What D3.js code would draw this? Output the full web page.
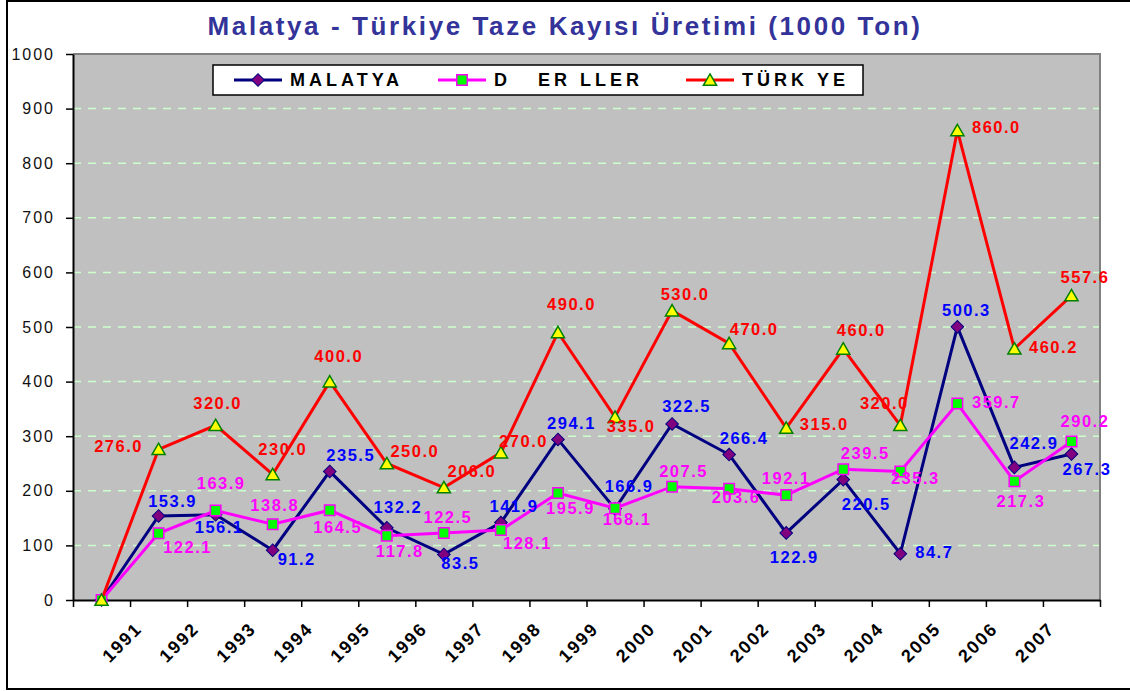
<!DOCTYPE html>
<html>
<head>
<meta charset="utf-8">
<script src="https://d3js.org/d3.v7.min.js"></script>
<style>
  body { margin: 0; background: #fff; }
  svg { display: block; font-family: Arial, 'Liberation Sans', sans-serif; }
</style>
</head>
<body>
<svg id="svg1" width="1130" height="691"></svg>
<script>
// categories (first one is the empty start point)
var years = ["", "1991", "1992", "1993", "1994", "1995", "1996", "1997", "1998", "1999",
             "2000", "2001", "2002", "2003", "2004", "2005", "2006", "2007"];

var malatya = [0, 153.9, 156.1, 91.2, 235.5, 132.2, 83.5, 141.9, 294.1, 166.9,
               322.5, 266.4, 122.9, 220.5, 84.7, 500.3, 242.9, 267.3];
var digerIller = [0, 122.1, 163.9, 138.8, 164.5, 117.8, 122.5, 128.1, 195.9, 168.1,
                  207.5, 203.6, 192.1, 239.5, 235.3, 359.7, 217.3, 290.2];
var turkiye = [0, 276.0, 320.0, 230.0, 400.0, 250.0, 206.0, 270.0, 490.0, 335.0,
               530.0, 470.0, 315.0, 460.0, 320.0, 860.0, 460.2, 557.6];

var yTicks = [0, 100, 200, 300, 400, 500, 600, 700, 800, 900, 1000];
var seriesNames = ["MALATYA", "D\u00A0\u00A0\u00A0ER\u00A0LLER", "TÜRK\u00A0YE"];

// where each data label sits relative to its point (dx, dy)
var malatyaLabelPos = [null, [14,-15], [3.5,12], [24,9], [21,-16], [11,-21], [16.5,9], [13,-17], [13.5,-16],
  [14,-23], [14.5,-17.5], [15,-17], [8,24.5], [23,24], [34,-2], [9,-17], [19.5,-24], [15.5,15]];
var digerLabelPos = [null, [29,14], [5.5,-27.5], [2,-19], [8,17], [13,15], [4,-16.5], [26.5,13], [12.5,15],
  [12,11], [11.5,-16], [7,8], [0,-17], [22,-16], [15,6.5], [39,-2], [6.5,19.5], [13.5,-21]];
var turkiyeLabelPos = [null, [-40,-3], [2,-22], [10,-25], [9,-26], [28,-13], [28,-17], [22.6,-12], [13.5,-28],
  [16,8.5], [13,-17], [25,-14], [38,-4.5], [18,-19], [-16,-22], [39,-3], [39,-2], [13.5,-18.5]];

var svg = d3.select('#svg1');

var plotLeft = 73, plotRight = 1100, plotTop = 54, plotBottom = 600;

// outer frame
svg.append('rect')
    .attr('x', 7).attr('y', 1)
    .attr('width', 1140).attr('height', 688)
    .attr('fill', '#fff')
    .attr('stroke', '#000')
    .attr('stroke-width', 2);

// title
svg.append('text')
    .attr('x', 565)
    .attr('y', 35)
    .attr('text-anchor', 'middle')
    .attr('fill', '#333399')
    .style('font-size', '26px')
    .style('font-weight', 'bold')
    .style('letter-spacing', '2.6px')
    .text('Malatya - Türkiye Taze Kayısı Üretimi (1000 Ton)');

var x = d3.scaleBand()
    .domain(d3.range(years.length))
    .range([plotLeft, plotRight])
    .padding(0);

var xEdge = d3.scaleLinear()
    .domain([0, years.length])
    .range([plotLeft, plotRight]);

var y = d3.scaleLinear()
    .domain([0, 1000])
    .range([plotBottom, plotTop]);

function cx(i) { return x(i) + x.bandwidth() / 2; }

// plot background
svg.append('rect')
    .attr('x', plotLeft).attr('y', plotTop)
    .attr('width', plotRight - plotLeft).attr('height', plotBottom - plotTop)
    .attr('fill', '#c0c0c0');

// gridlines
svg.append('g')
    .selectAll('line')
    .data(yTicks.filter(function(d){ return d > 0 && d < 1000; }))
    .enter()
    .append('line')
    .attr('x1', plotLeft).attr('x2', plotRight)
    .attr('y1', function(d){ return y(d); })
    .attr('y2', function(d){ return y(d); })
    .attr('stroke', '#ccffcc')
    .attr('stroke-width', 1.5)
    .attr('stroke-dasharray', '8,7');

// top and right border of plot
svg.append('path')
    .attr('d', 'M' + plotLeft + ',' + plotTop + 'H' + plotRight + 'V' + plotBottom)
    .attr('fill', 'none')
    .attr('stroke', '#808080')
    .attr('stroke-width', 2);

// y axis
var yAxis = svg.append('g')
    .attr('transform', 'translate(' + plotLeft + ',0)')
    .call(d3.axisLeft(y).tickValues(yTicks).tickFormat(d3.format('d'))
        .tickSize(7).tickPadding(11).tickSizeOuter(0));
yAxis.select('.domain').attr('stroke', '#000').attr('stroke-width', 2);
yAxis.selectAll('.tick line').attr('stroke', '#000').attr('stroke-width', 1.5);
yAxis.selectAll('.tick text')
    .attr('fill', '#111')
    .style('font-family', "Arial, 'Liberation Sans', sans-serif")
    .style('font-size', '16px')
    .style('letter-spacing', '2px');

// x axis (tick marks on category edges)
var xAxis = svg.append('g')
    .attr('transform', 'translate(0,' + plotBottom + ')')
    .call(d3.axisBottom(xEdge).tickValues(d3.range(years.length + 1)).tickSize(7).tickFormat('').tickSizeOuter(0));
xAxis.select('.domain').attr('stroke', '#000').attr('stroke-width', 2);
xAxis.selectAll('.tick line').attr('stroke', '#000').attr('stroke-width', 1.5);

svg.append('g')
    .selectAll('text')
    .data(years)
    .enter()
    .append('text')
    .attr('transform', function(d, i){
        return 'translate(' + (x(i) + 13) + ',630) rotate(-45)';
    })
    .attr('text-anchor', 'end')
    .style('font-size', '18px')
    .style('font-weight', 'bold')
    .style('letter-spacing', '1.8px')
    .attr('fill', '#000')
    .text(function(d){ return d; });

var series = [
    {name: seriesNames[0], values: malatya, labelPos: malatyaLabelPos, line: '#000080', fill: '#800080', stroke: '#000080', label: '#0000ff', shape: 'diamond'},
    {name: seriesNames[1], values: digerIller, labelPos: digerLabelPos, line: '#ff00ff', fill: '#00ff00', stroke: '#ff00ff', label: '#ff00ff', shape: 'square'},
    {name: seriesNames[2], values: turkiye, labelPos: turkiyeLabelPos, line: '#ff0000', fill: '#ffff00', stroke: '#008000', label: '#ff0000', shape: 'triangle'}
];

var line = d3.line()
    .x(function(d, i){ return cx(i); })
    .y(function(d){ return y(d); });

function markerPath(shape) {
    if (shape === 'diamond') return d3.symbol().type(d3.symbolSquare).size(80)();
    if (shape === 'square') return d3.symbol().type(d3.symbolSquare).size(110)();
    return d3.symbol().type(d3.symbolTriangle).size(75)();
}
function markerTransform(shape) {
    if (shape === 'diamond') return ' rotate(45)';
    if (shape === 'triangle') return ' translate(0,1.5)';
    return '';
}

series.forEach(function(s){
    var g = svg.append('g');
    g.append('path')
        .datum(s.values)
        .attr('d', line)
        .attr('fill', 'none')
        .attr('stroke', s.line)
        .attr('stroke-width', 3)
        .attr('stroke-linejoin', 'miter');

    g.selectAll('.marker')
        .data(s.values)
        .enter()
        .append('path')
        .attr('class', 'marker')
        .attr('d', markerPath(s.shape))
        .attr('transform', function(d, i){
            return 'translate(' + cx(i) + ',' + y(d) + ')' + markerTransform(s.shape);
        })
        .attr('fill', s.fill)
        .attr('stroke', s.stroke)
        .attr('stroke-width', s.shape === 'diamond' ? 1 : 1.5);
});

// data labels on top
series.forEach(function(s){
    svg.append('g')
        .selectAll('text')
        .data(s.values.map(function(v, i){ return {v: v, i: i}; }).filter(function(d){ return d.i > 0; }))
        .enter()
        .append('text')
        .attr('x', function(d){ return cx(d.i) + s.labelPos[d.i][0]; })
        .attr('y', function(d){ return y(d.v) + s.labelPos[d.i][1]; })
        .attr('text-anchor', 'middle')
        .attr('dominant-baseline', 'central')
        .attr('fill', s.label)
        .style('font-size', '16.5px')
        .style('font-weight', 'bold')
        .style('letter-spacing', '1.5px')
        .text(function(d){ return d.v.toFixed(1); });
});

// legend
var legend = svg.append('g');
legend.append('rect')
    .attr('x', 213).attr('y', 65)
    .attr('width', 650).attr('height', 30)
    .attr('fill', '#fff')
    .attr('stroke', '#000')
    .attr('stroke-width', 1.5);

var legendX = [234, 438, 686];
series.forEach(function(s, k){
    var lx = legendX[k];
    legend.append('line')
        .attr('x1', lx).attr('x2', lx + 48)
        .attr('y1', 80).attr('y2', 80)
        .attr('stroke', s.line)
        .attr('stroke-width', 3);
    legend.append('path')
        .attr('d', markerPath(s.shape))
        .attr('transform', 'translate(' + (lx + 24) + ',80)' + markerTransform(s.shape))
        .attr('fill', s.fill)
        .attr('stroke', s.stroke)
        .attr('stroke-width', s.shape === 'diamond' ? 1 : 1.5);
    legend.append('text')
        .attr('x', lx + 56)
        .attr('y', 80)
        .attr('dominant-baseline', 'central')
        .attr('fill', '#000')
        .style('font-size', '18px')
        .style('font-weight', 'bold')
        .style('letter-spacing', '4px')
        .text(s.name);
});
</script>
</body>
</html>
